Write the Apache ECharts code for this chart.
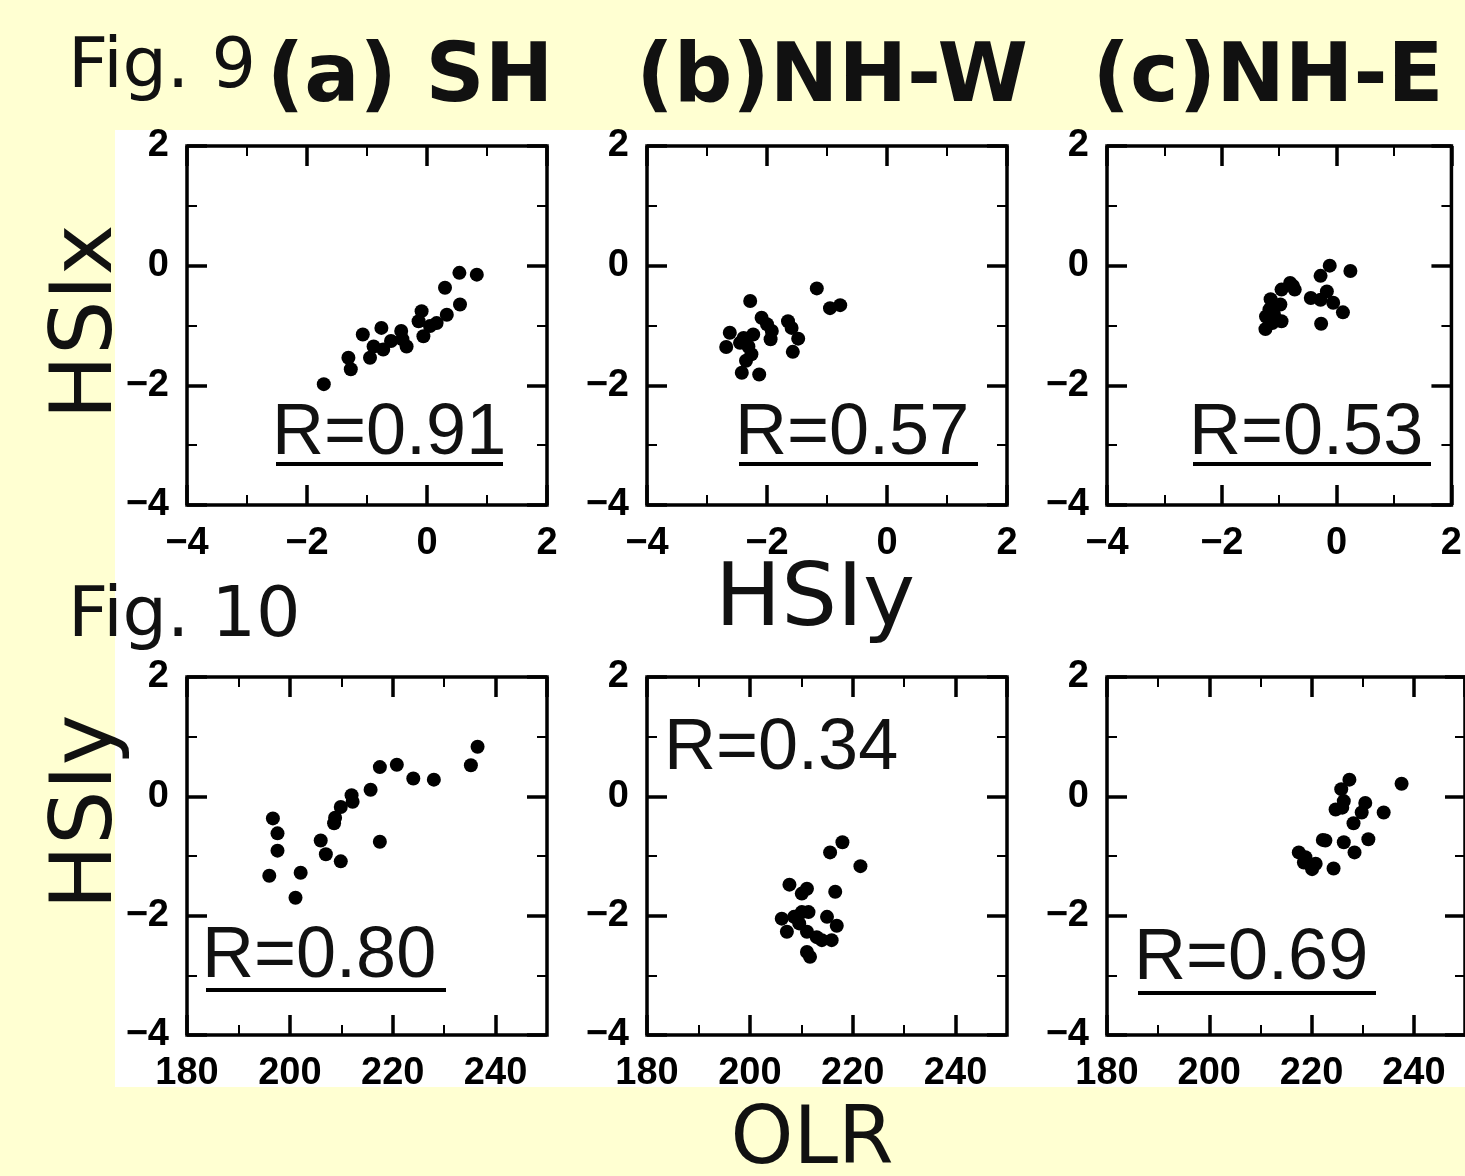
<!DOCTYPE html>
<html>
<head>
<meta charset="utf-8">
<script src="https://cdn.jsdelivr.net/npm/echarts@6/dist/echarts.min.js"></script>
<style>
  html, body { margin: 0; padding: 0; background: #FFFFD2; }
  #main { width: 1465px; height: 1176px; }
</style>
</head>
<body>
<div id="main"></div>
<script>
// Fig. 9 : HSIy (x) vs HSIx (y)
var shHSIy  = [-1.72, -1.31, -1.27, -1.07, -0.95, -0.89, -0.76, -0.73, -0.60, -0.43, -0.41, -0.34, -0.14, -0.09, -0.06, 0.05, 0.16, 0.30, 0.33, 0.55, 0.54, 0.83];
var shHSIx  = [-1.98, -1.54, -1.73, -1.15, -1.54, -1.35, -1.04, -1.40, -1.26, -1.09, -1.23, -1.35, -0.93, -0.76, -1.18, -1.01, -0.96, -0.37, -0.82, -0.65, -0.12, -0.15];
var nhwHSIy = [-1.17, -0.95, -0.78, -2.28, -2.09, -2.00, -1.92, -1.94, -1.65, -1.59, -1.48, -1.57, -2.62, -2.68, -2.39, -2.23, -2.31, -2.26, -2.35, -2.42, -2.13, -2.45];
var nhwHSIx = [-0.38, -0.71, -0.66, -0.59, -0.87, -0.98, -1.09, -1.23, -0.93, -1.04, -1.22, -1.44, -1.12, -1.36, -1.21, -1.15, -1.35, -1.48, -1.59, -1.79, -1.82, -1.29];
var nheHSIy = [-0.12, 0.24, -0.28, -0.17, -0.45, -0.28, -0.06, 0.11, -0.27, -0.81, -0.73, -0.96, -1.15, -0.98, -1.17, -1.23, -1.09, -0.96, -1.12, -1.24, -0.76];
var nheHSIx = [0.00, -0.09, -0.17, -0.43, -0.54, -0.57, -0.62, -0.78, -0.97, -0.29, -0.40, -0.40, -0.56, -0.65, -0.73, -0.85, -0.82, -0.93, -0.96, -1.06, -0.34];

// Fig. 10 : OLR (x) vs HSIy (y)
var shOLR    = [236.5, 235.2, 220.8, 217.5, 224.0, 228.0, 215.7, 212.0, 212.2, 209.9, 208.8, 208.6, 196.7, 197.6, 197.6, 206.0, 207.0, 209.9, 217.5, 196.0, 202.1, 201.1];
var shHSIy10 = [0.83, 0.52, 0.53, 0.49, 0.30, 0.28, 0.11, 0.02, -0.09, -0.18, -0.36, -0.45, -0.37, -0.62, -0.91, -0.74, -0.97, -1.09, -0.76, -1.33, -1.28, -1.70];
var nhwOLR   = [218.0, 215.6, 221.5, 216.6, 207.7, 211.1, 210.1, 210.1, 211.4, 206.2, 207.2, 209.6, 211.1, 213.0, 215.0, 216.9, 215.9, 214.0, 211.1, 211.7, 208.6];
var nhwHSIy10 = [-0.77, -0.94, -1.17, -1.60, -1.48, -1.55, -1.63, -1.94, -1.94, -2.05, -2.27, -2.13, -2.27, -2.36, -2.02, -2.17, -2.41, -2.41, -2.61, -2.69, -2.02];
var nheOLR   = [237.6, 227.4, 225.8, 226.3, 224.7, 230.5, 229.8, 234.1, 228.2, 222.7, 231.1, 226.3, 228.4, 217.5, 218.8, 218.5, 220.1, 224.3, 220.8, 222.2, 226.0];
var nheHSIy10 = [0.21, 0.28, 0.12, -0.08, -0.22, -0.11, -0.27, -0.27, -0.45, -0.74, -0.72, -0.77, -0.94, -0.94, -1.02, -1.11, -1.22, -1.21, -1.13, -0.73, -0.19];

// correlation labels
var rLabels = ["R=0.91", "R=0.57", "R=0.53", "R=0.80", "R=0.34", "R=0.69"];

var myChart = echarts.init(document.getElementById("main"));

function zip(xs, ys) {
  return xs.map(function (x, i) { return [x, ys[i]]; });
}

// panels: grid box + axis ranges
var panels = [
  { left: 187,  top: 146, h: 359, x: [-4, 2, 2, 1],     data: zip(shHSIy, shHSIx) },
  { left: 647,  top: 146, h: 359, x: [-4, 2, 2, 1],     data: zip(nhwHSIy, nhwHSIx) },
  { left: 1107, top: 146, h: 359, x: [-4, 2, 2, 1],     data: zip(nheHSIy, nheHSIx) },
  { left: 187,  top: 677, h: 358, x: [180, 250, 20, 10], data: zip(shOLR, shHSIy10) },
  { left: 647,  top: 677, h: 358, x: [180, 250, 20, 10], data: zip(nhwOLR, nhwHSIy10) },
  { left: 1107, top: 677, h: 358, x: [180, 250, 20, 10], data: zip(nheOLR, nheHSIy10) },
];

var tickFont = { fontFamily: "Liberation Sans", fontSize: 38, fontWeight: "bold", color: "#000" };
function fmt(v) {
  return v < 0 ? "\u2212" + Math.abs(v) : String(v);
}

// one axis: major (long ticks, maybe labels) or minor (short ticks)
function axis(gi, pos, min, max, step, major, label) {
  return {
    type: "value",
    gridIndex: gi,
    position: pos,
    min: min,
    max: max,
    interval: step,
    axisLine: { show: false, onZero: false },
    splitLine: { show: false },
    axisTick: {
      show: true,
      inside: true,
      length: major ? 20 : 10,
      lineStyle: { color: "#000", width: major ? 3.5 : 2 },
    },
    axisLabel: label
      ? Object.assign({ show: true, margin: pos === "bottom" ? 20 : 18, formatter: fmt,
                        showMaxLabel: max === 2 }, tickFont)
      : { show: false },
  };
}

var grid = [], xAxis = [], yAxis = [], series = [];
panels.forEach(function (p, i) {
  grid.push({
    left: p.left, top: p.top, width: 360, height: p.h,
    show: true, borderColor: "#000", borderWidth: 3.5, backgroundColor: "transparent",
  });
  var x = p.x;
  xAxis.push(axis(i, "bottom", x[0], x[1], x[2], true, true));
  xAxis.push(axis(i, "bottom", x[0], x[1], x[3], false, false));
  xAxis.push(axis(i, "top", x[0], x[1], x[2], true, false));
  xAxis.push(axis(i, "top", x[0], x[1], x[3], false, false));
  yAxis.push(axis(i, "left", -4, 2, 2, true, true));
  yAxis.push(axis(i, "left", -4, 2, 1, false, false));
  yAxis.push(axis(i, "right", -4, 2, 2, true, false));
  yAxis.push(axis(i, "right", -4, 2, 1, false, false));
  series.push({
    type: "scatter",
    xAxisIndex: i * 4,
    yAxisIndex: i * 4,
    symbol: "circle",
    symbolSize: 14,
    itemStyle: { color: "#000", opacity: 1 },
    silent: true,
    z: 5,
    data: p.data,
  });
});

// text annotations (positions in px)
var big = "DejaVu Sans";
function txt(s, x, y, font, align, rot, z) {
  return {
    type: "text", x: x, y: y, rotation: rot || 0, z: z || 20,
    style: { text: s, font: font, fill: "#111", textAlign: align, align: align,
             textVerticalAlign: "middle", verticalAlign: "middle" },
  };
}
function uline(x1, x2, y) {
  return { type: "line", z: 20, shape: { x1: x1, y1: y, x2: x2, y2: y },
           style: { stroke: "#000", lineWidth: 4 } };
}
var rPos = [[272, 434, 464], [735, 434, 464], [1189, 434, 464], [202, 957, 990], [664, 749, null], [1134, 959, 993]];
var rWidth = [227, 239, 238, 240, 0, 238];

var graphic = [
  { type: "rect", z: -10, shape: { x: 115, y: 130, width: 1350, height: 957 }, style: { fill: "#fff" } },
  { type: "rect", z: 15, shape: { x: 0, y: 1087, width: 1465, height: 89 }, style: { fill: "#FFFFD2" } },
  txt("Fig. 9", 68, 69, "70px " + big, "left"),
  txt("(a) SH", 410, 80, "bold 82px " + big, "center"),
  txt("(b)NH-W", 832, 80, "bold 82px " + big, "center"),
  txt("(c)NH-E", 1268, 80, "bold 82px " + big, "center"),
  txt("Fig. 10", 68, 618, "70px " + big, "left"),
  txt("HSIy", 815, 602, "88px " + big, "center"),
  txt("OLR", 812, 1142, "80px " + big, "center", 0, 30),
  txt("HSIx", 89, 322, "86px " + big, "center", Math.PI / 2),
  txt("HSIy", 89, 812, "86px " + big, "center", Math.PI / 2),
];
rLabels.forEach(function (s, i) {
  var p = rPos[i];
  graphic.push(txt(s, p[0], p[1], "72px Liberation Sans", "left"));
  if (p[2] !== null) graphic.push(uline(p[0] + 4, p[0] + 4 + rWidth[i], p[2]));
});

var option = {
  backgroundColor: "#FFFFD2",
  animation: false,
  grid: grid,
  xAxis: xAxis,
  yAxis: yAxis,
  series: series,
  graphic: graphic,
};
myChart.setOption(option);
</script>
</body>
</html>
